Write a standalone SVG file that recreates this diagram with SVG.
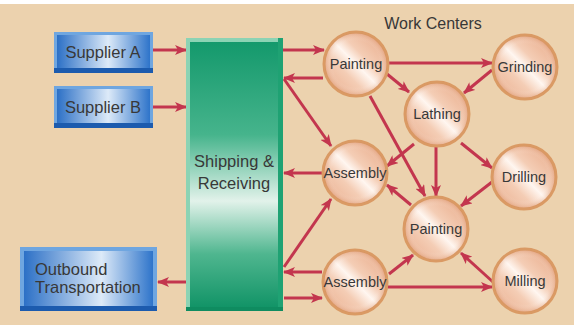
<svg xmlns="http://www.w3.org/2000/svg" width="574" height="325" viewBox="0 0 574 325">
  <defs>
    <linearGradient id="blueFill" x1="0" y1="0" x2="1" y2="0">
      <stop offset="0" stop-color="#2C70C6"/>
      <stop offset="0.55" stop-color="#DDEAF8"/>
      <stop offset="1" stop-color="#2E74CA"/>
    </linearGradient>
    <linearGradient id="blueFill2" x1="0" y1="0" x2="1" y2="0">
      <stop offset="0" stop-color="#2C70C6"/>
      <stop offset="0.6" stop-color="#DDEAF8"/>
      <stop offset="1" stop-color="#2E74CA"/>
    </linearGradient>
    <linearGradient id="greenFill" x1="0" y1="0" x2="0" y2="1">
      <stop offset="0" stop-color="#14996C"/>
      <stop offset="0.35" stop-color="#46B48C"/>
      <stop offset="0.6" stop-color="#E2F2EA"/>
      <stop offset="0.8" stop-color="#4FB68F"/>
      <stop offset="1" stop-color="#129467"/>
    </linearGradient>
    <linearGradient id="ball" x1="0" y1="1" x2="1" y2="0">
      <stop offset="0" stop-color="#E8A886"/>
      <stop offset="0.35" stop-color="#F4CDB5"/>
      <stop offset="0.5" stop-color="#FFF6F0"/>
      <stop offset="0.62" stop-color="#F4CDB5"/>
      <stop offset="1" stop-color="#E6A27E"/>
    </linearGradient>
    <radialGradient id="ballShade" cx="0.5" cy="0.5" r="0.5">
      <stop offset="0.75" stop-color="#FFFFFF" stop-opacity="0"/>
      <stop offset="1" stop-color="#D08050" stop-opacity="0.3"/>
    </radialGradient>
    <marker id="ah" markerUnits="userSpaceOnUse" markerWidth="12" markerHeight="10" viewBox="0 0 12 10" refX="11" refY="5" orient="auto">
      <path d="M0,0 L12,5 L0,10 L3,5 z" fill="#C3364E"/>
    </marker>
  </defs>
  <style>
    .conn line { stroke: #C3364E; stroke-width: 3; marker-end: url(#ah); }
    .ring { fill: url(#ball); stroke: #DA9A64; stroke-width: 3; }
    .shade { fill: url(#ballShade); }
    .lbl { font-family: "Liberation Sans", Arial, sans-serif; fill: #383838; }
    .cl { font-size: 14.5px; text-anchor: middle; }
    .bl { font-size: 16.5px; }
  </style>

  <rect x="0" y="0" width="574" height="325" fill="#FFFFFF"/>
  <rect x="0" y="4" width="574" height="321" fill="#ECD2AE"/>

  <text class="lbl" x="433" y="29" font-size="16" text-anchor="middle">Work Centers</text>

  <g id="connectors" class="conn">
    <line x1="153" y1="50" x2="186" y2="50"/>
    <line x1="153" y1="107" x2="186" y2="107"/>
    <line x1="186" y1="282" x2="158" y2="282"/>
    <line x1="283" y1="50" x2="324" y2="50"/>
    <line x1="323" y1="78" x2="284" y2="78"/>
    <line x1="284" y1="79" x2="331" y2="146"/>
    <line x1="322" y1="173" x2="284" y2="173"/>
    <line x1="284" y1="267" x2="331" y2="199"/>
    <line x1="322" y1="272" x2="284" y2="272"/>
    <line x1="284" y1="298" x2="322" y2="298"/>
    <line x1="388" y1="63" x2="492" y2="63"/>
    <line x1="492" y1="70" x2="464" y2="93"/>
    <line x1="387" y1="74" x2="409" y2="92"/>
    <line x1="370" y1="96" x2="425" y2="196"/>
    <line x1="414" y1="144" x2="387" y2="166"/>
    <line x1="436" y1="147" x2="436" y2="196"/>
    <line x1="461" y1="143" x2="492" y2="168"/>
    <line x1="492" y1="182" x2="461" y2="206"/>
    <line x1="411" y1="205" x2="387" y2="185"/>
    <line x1="389" y1="274" x2="413" y2="255"/>
    <line x1="493" y1="282" x2="461" y2="253"/>
    <line x1="388" y1="287" x2="492" y2="287"/>
  </g>

  <g id="supplierA">
    <rect x="54" y="32" width="99" height="41" fill="#6FA6E0"/>
    <rect x="54" y="68" width="99" height="5" fill="#1C5BAE"/>
    <rect x="57" y="35" width="93" height="33" fill="url(#blueFill)"/>
    <text class="lbl bl" x="103" y="58" text-anchor="middle">Supplier A</text>
  </g>
  <g id="supplierB">
    <rect x="54" y="86" width="99" height="42" fill="#6FA6E0"/>
    <rect x="54" y="123" width="99" height="5" fill="#1C5BAE"/>
    <rect x="57" y="89" width="93" height="34" fill="url(#blueFill)"/>
    <text class="lbl bl" x="103" y="113" text-anchor="middle">Supplier B</text>
  </g>
  <g id="outbound">
    <rect x="20" y="247" width="137" height="64" fill="#6FA6E0"/>
    <rect x="20" y="306" width="137" height="5" fill="#1C5BAE"/>
    <rect x="24" y="251" width="129" height="55" fill="url(#blueFill2)"/>
    <text class="lbl bl" x="35" y="275">Outbound</text>
    <text class="lbl bl" x="35" y="293">Transportation</text>
  </g>
  <g id="shipping">
    <rect x="186" y="38" width="97" height="273" fill="#8CD3B4"/>
    <rect x="278" y="38" width="5" height="273" fill="#1FA273"/>
    <rect x="186" y="307" width="97" height="4" fill="#0F8C60"/>
    <rect x="190" y="42" width="88" height="265" fill="url(#greenFill)"/>
    <text class="lbl bl" x="234" y="167" text-anchor="middle">Shipping &amp;</text>
    <text class="lbl bl" x="234" y="189" text-anchor="middle">Receiving</text>
  </g>

  <g id="painting1">
    <circle class="ring" cx="356" cy="64" r="32"/>
    <circle class="shade" cx="356" cy="64" r="31"/>
    <text class="lbl cl" x="356" y="69">Painting</text>
  </g>
  <g id="grinding">
    <circle class="ring" cx="525" cy="67" r="32"/>
    <circle class="shade" cx="525" cy="67" r="31"/>
    <text class="lbl cl" x="525" y="72">Grinding</text>
  </g>
  <g id="lathing">
    <circle class="ring" cx="437" cy="114" r="32"/>
    <circle class="shade" cx="437" cy="114" r="31"/>
    <text class="lbl cl" x="437" y="119">Lathing</text>
  </g>
  <g id="assembly1">
    <circle class="ring" cx="355" cy="173" r="32"/>
    <circle class="shade" cx="355" cy="173" r="31"/>
    <text class="lbl cl" x="355" y="178">Assembly</text>
  </g>
  <g id="drilling">
    <circle class="ring" cx="524" cy="177" r="32"/>
    <circle class="shade" cx="524" cy="177" r="31"/>
    <text class="lbl cl" x="524" y="182">Drilling</text>
  </g>
  <g id="painting2">
    <circle class="ring" cx="436" cy="229" r="32"/>
    <circle class="shade" cx="436" cy="229" r="31"/>
    <text class="lbl cl" x="436" y="234">Painting</text>
  </g>
  <g id="assembly2">
    <circle class="ring" cx="355" cy="282" r="32"/>
    <circle class="shade" cx="355" cy="282" r="31"/>
    <text class="lbl cl" x="355" y="287">Assembly</text>
  </g>
  <g id="milling">
    <circle class="ring" cx="525" cy="281" r="32"/>
    <circle class="shade" cx="525" cy="281" r="31"/>
    <text class="lbl cl" x="525" y="286">Milling</text>
  </g>
</svg>
